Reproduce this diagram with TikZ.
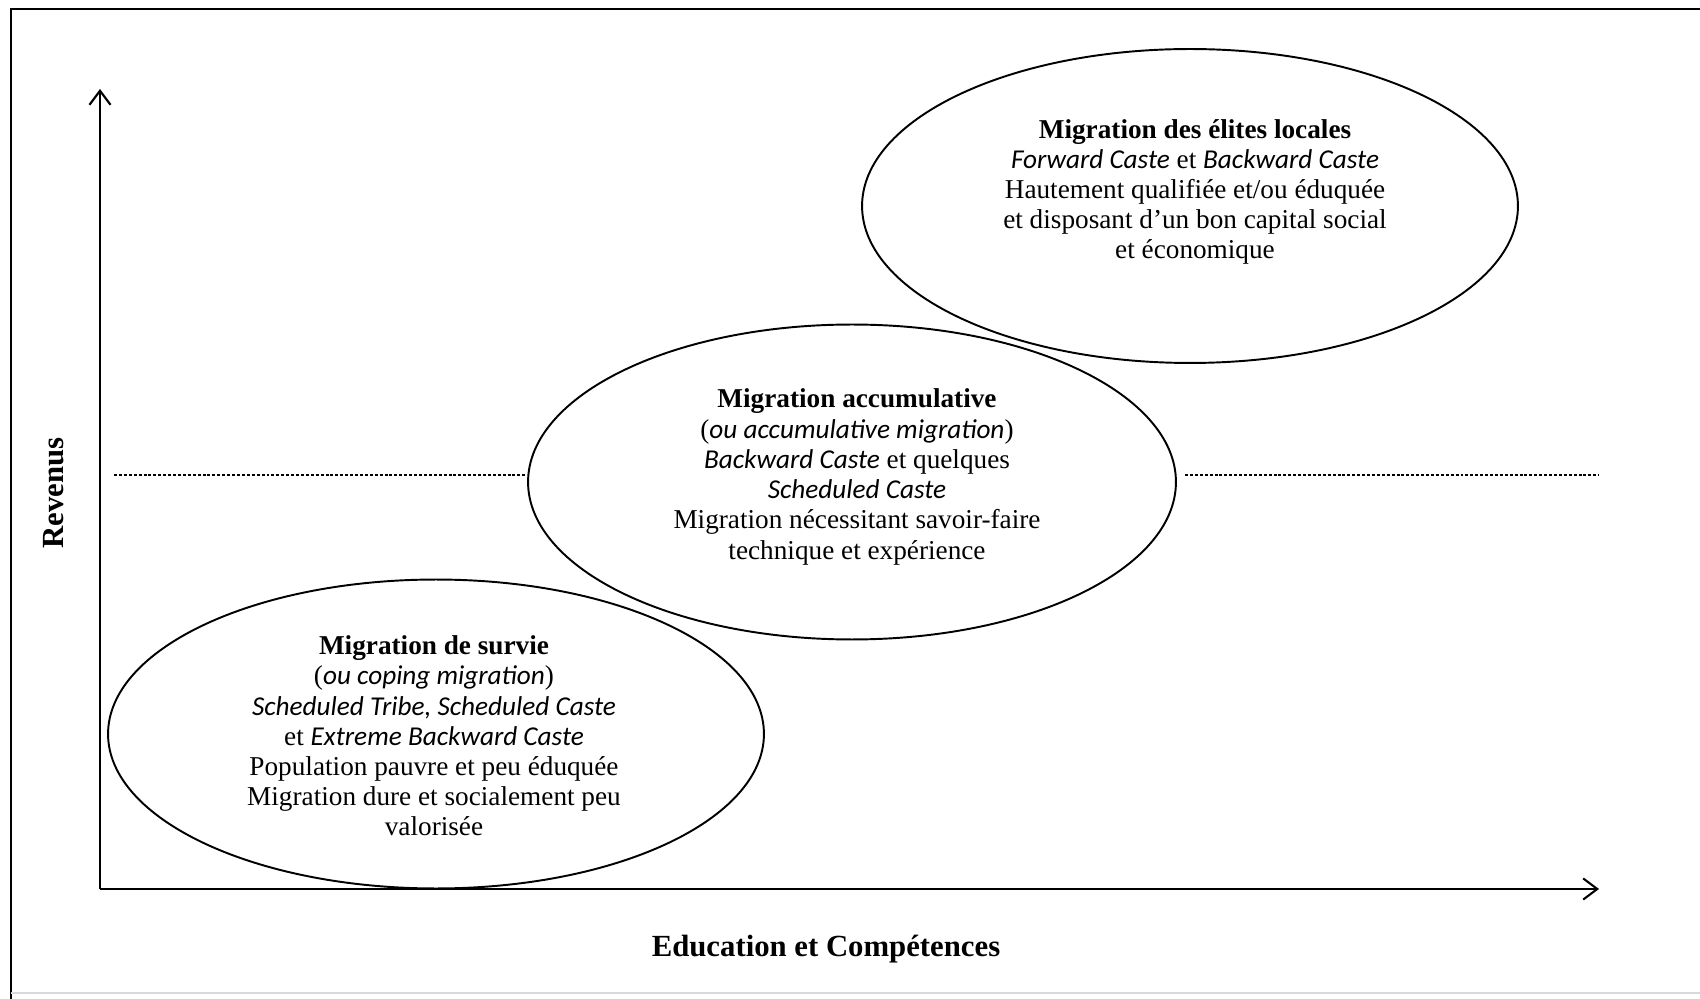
\documentclass[tikz,border=0pt]{standalone}
\usepackage{fontspec}
\setmainfont{Liberation Serif}
\newfontfamily\cali{Carlito}
\newcommand{\eng}[1]{{\cali\itshape #1}}
\usetikzlibrary{shapes.geometric,arrows.meta}

\begin{document}
\begin{tikzpicture}[x=0.02cm,y=-0.02cm]%
  \tikzstyle{axe}=[line width=1.2pt,-{Straight Barb[length=8pt,width=12pt]}]
  \tikzstyle{bulle}=[ellipse,draw,line width=1.1pt,inner sep=0]
  \tikzstyle{txt}=[align=center,font=\fontsize{15.5}{17.2}\selectfont]
  \tikzstyle{titre}=[font=\fontsize{17.5}{20}\selectfont\bfseries]
  \tikzstyle{seuil}=[line width=0.9pt,dash pattern=on 1.7pt off 1.1pt]
  \useasboundingbox (0,0) rectangle (1700,999);
  % cadre
  \draw[line width=1.4pt] (11,999) -- (11,9) -- (1700,9);
  \draw[gray!30,line width=1pt] (11,993) -- (1700,993);
  % axes
  \coordinate (o) at (100,889);
  \coordinate (ytop) at (100,89);
  \coordinate (xend) at (1599,889);
  \draw[axe] (o) -- (ytop);
  \draw[axe] (o) -- (xend);
  \node(rev)[titre,rotate=90] at (54,493) {Revenus};
  \node(edu)[titre] at (826,949) {Education et Compétences};
  % bulles
  \node(elite)[bulle,minimum width=13.12cm,minimum height=6.28cm] at (1190,206) {};
  \node(accu)[bulle,minimum width=12.96cm,minimum height=6.3cm] at (852,482) {};
  \node(survie)[bulle,minimum width=13.12cm,minimum height=6.18cm] at (436,734) {};
  \node(elitet)[txt] at (1195,192) {\textbf{Migration des élites locales}\\
    \eng{Forward Caste} et \eng{Backward Caste}\\
    Hautement qualifiée et/ou éduquée\\
    et disposant d’un bon capital social\\
    et économique};
  \node(accut)[txt] at (857,477) {\textbf{Migration accumulative}\\
    (\eng{ou accumulative migration})\\
    \eng{Backward Caste} et quelques\\
    \eng{Scheduled Caste}\\
    Migration nécessitant savoir-faire\\
    technique et expérience};
  \node(surviet)[txt] at (434,736) {\textbf{Migration de survie}\\
    (\eng{ou coping migration})\\
    \eng{Scheduled Tribe, Scheduled Caste}\\
    et \eng{Extreme Backward Caste}\\
    Population pauvre et peu éduquée\\
    Migration dure et socialement peu\\
    valorisée};
  % seuil
  \coordinate (dl) at (114,475);
  \coordinate (dr1) at (1185,475);
  \coordinate (dr2) at (1599,475);
  \draw[seuil] (dl) -- (dl -| accu.west);
  \draw[seuil] (dr1) -- (dr2);
\end{tikzpicture}
\end{document}
